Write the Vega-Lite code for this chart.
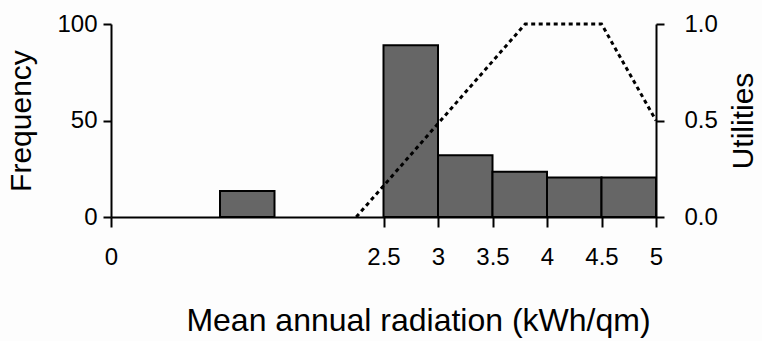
{
  "$schema": "https://vega.github.io/schema/vega-lite/v6.json",
  "autosize": "none",
  "width": 545,
  "height": 193,
  "padding": {"left": 111, "top": 24, "right": 106, "bottom": 124},
  "background": "#fdfdfd",
  "config": {
    "view": {"stroke": null},
    "font": "Liberation Sans",
    "axis": {
      "grid": false,
      "domainColor": "black",
      "domainWidth": 2,
      "tickColor": "black",
      "tickWidth": 2,
      "labelColor": "black",
      "titleColor": "black",
      "labelFont": "Liberation Sans",
      "titleFont": "Liberation Sans",
      "labelFontSize": 24,
      "titleFontSize": 30,
      "titleFontWeight": "normal"
    }
  },
  "datasets": {
    "bars": [
      {"bin_start": 1.0, "bin_end": 1.5, "count": 13.5},
      {"bin_start": 2.5, "bin_end": 3.0, "count": 89},
      {"bin_start": 3.0, "bin_end": 3.5, "count": 32},
      {"bin_start": 3.5, "bin_end": 4.0, "count": 23.5},
      {"bin_start": 4.0, "bin_end": 4.5, "count": 20.5},
      {"bin_start": 4.5, "bin_end": 5.0, "count": 20.5}
    ],
    "utility": [
      {"radiation": 2.25, "utility": 0},
      {"radiation": 3.8, "utility": 1},
      {"radiation": 4.5, "utility": 1},
      {"radiation": 5.0, "utility": 0.5}
    ]
  },
  "layer": [
    {
      "data": {"name": "bars"},
      "mark": {"type": "bar", "fill": "#666666", "stroke": "black", "strokeWidth": 2},
      "encoding": {
        "x": {
          "field": "bin_start",
          "type": "quantitative",
          "scale": {"domain": [0, 5], "nice": false, "zero": false},
          "axis": {
            "title": "Mean annual radiation (kWh/qm)",
            "values": [0, 2.5, 3, 3.5, 4, 4.5, 5],
            "format": "~g",
            "tickSize": 10,
            "labelPadding": 18,
            "labelFlush": false,
            "titlePadding": 36,
            "titleFontSize": 32,
            "titleX": 307,
            "titleAlign": "center"
          }
        },
        "x2": {"field": "bin_end"},
        "y": {
          "field": "count",
          "type": "quantitative",
          "scale": {"domain": [0, 100], "nice": false},
          "axis": {
            "title": "Frequency",
            "values": [0, 50, 100],
            "tickSize": 8,
            "labelPadding": 6,
            "titlePadding": 20
          }
        },
        "y2": {"datum": 0}
      }
    },
    {
      "data": {"name": "utility"},
      "mark": {"type": "line", "color": "black", "strokeWidth": 3, "strokeDash": [4, 3.5], "clip": false},
      "encoding": {
        "x": {"field": "radiation", "type": "quantitative"},
        "y": {
          "field": "utility",
          "type": "quantitative",
          "scale": {"domain": [0, 1], "nice": false},
          "axis": {
            "orient": "right",
            "title": "Utilities",
            "values": [0, 0.5, 1],
            "format": ".1f",
            "tickSize": 8,
            "labelPadding": 20,
            "labelFlush": false,
            "titlePadding": 11,
            "titleAngle": 270,
            "titleBaseline": "top"
          }
        }
      }
    }
  ],
  "resolve": {"scale": {"y": "independent"}}
}
